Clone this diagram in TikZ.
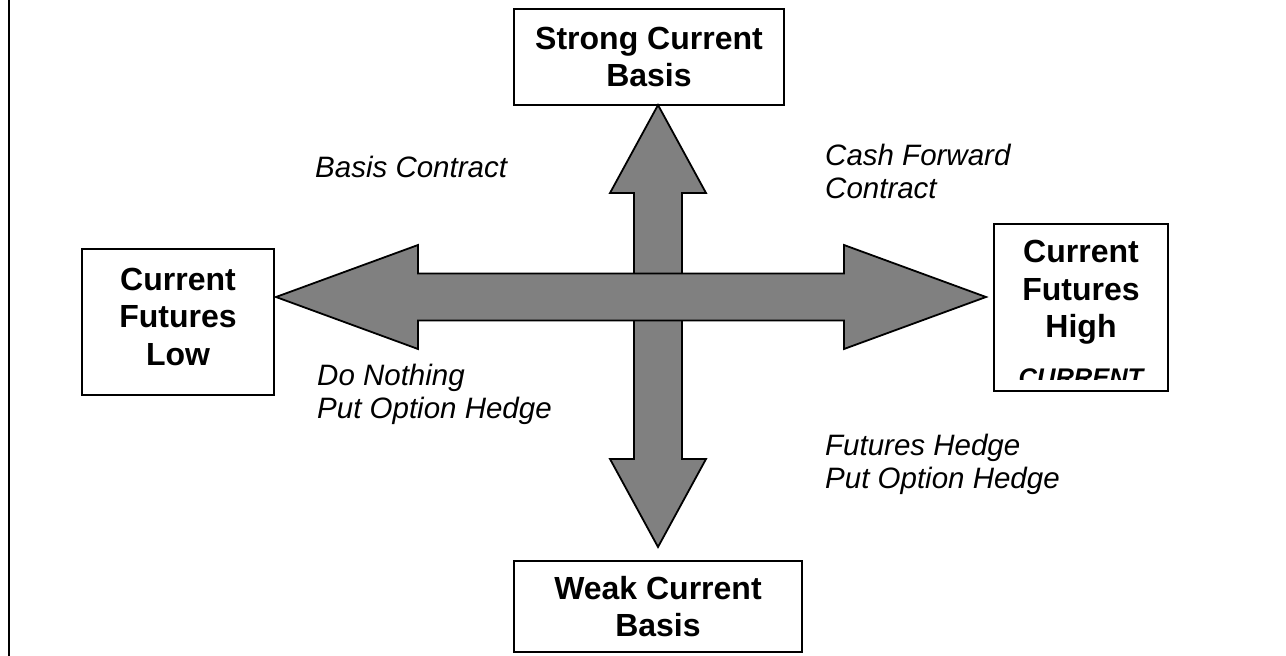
\documentclass[tikz,border=0pt]{standalone}
\usepackage{fontspec}
\setmainfont{Liberation Sans}
\begin{document}
\begin{tikzpicture}[x=1pt, y=-1pt,
    box/.style={draw, line width=1.9pt, inner sep=0pt, align=center,
        font=\fontsize{32}{37.5}\selectfont\bfseries},
    boxtext/.style={inner sep=0pt, align=center, font=\fontsize{32}{37.5}\selectfont\bfseries},
    lbl/.style={anchor=north west, inner sep=0pt, align=left,
        font=\fontsize{29.5}{33.5}\selectfont\itshape},
    blockarrow/.style={draw, line width=1.8pt, fill=black!50, line join=miter}]
    \useasboundingbox (0,0) rectangle (1286,656);
    \draw[line width=1.9pt] (9,0) -- (9,656);

    % the four corner boxes
    \node[box, minimum width=270pt, minimum height=96pt] (strong) at (649,57) {Strong Current\\Basis};
    \node[box, minimum width=192pt, minimum height=146pt] (low) at (178,322) {Current\\Futures\\Low\strut};
    \node[box, minimum width=288pt, minimum height=91pt] (weak) at (658,606.5) {Weak Current\\Basis};
    \node[box, minimum width=174pt, minimum height=167pt] (high) at (1081,307.5) {};
    \begin{scope}
        \clip (high.north west) rectangle ([yshift=12pt]high.south east);
        \node[boxtext, anchor=north] (hightxt) at (1081,240) {Current\\Futures\\High};
        \node[boxtext, anchor=base, font=\fontsize{25.5}{30}\selectfont\bfseries\itshape] (highcut) at (1081,386) {CURRENT};
    \end{scope}

    % arrow tips
    \coordinate (tipU) at (658,105);
    \coordinate (tipD) at (658,547);
    \coordinate (tipL) at (276,297);
    \coordinate (tipR) at (986,297);

    \draw[blockarrow] (tipU) -- ++(48,88) -- ++(-24,0) -- ++(0,266) -- ++(24,0) -- (tipD)
        -- ++(-48,-88) -- ++(24,0) -- ++(0,-266) -- ++(-24,0) -- cycle;
    \draw[blockarrow] (tipL) -- ++(142,-52) -- ++(0,28.5) -- ++(426,0) -- ++(0,-28.5) -- (tipR)
        -- ++(-142,52) -- ++(0,-28.5) -- ++(-426,0) -- ++(0,28.5) -- cycle;

    % strategies in each quarter
    \node[lbl] (basis) at (315,155.5) {Basis Contract};
    \node[lbl] (cash) at (825,143.5) {Cash Forward\\Contract};
    \node[lbl] (nothing) at (317,363.5) {Do Nothing\\Put Option Hedge};
    \node[lbl] (futures) at (825,433.5) {Futures Hedge\\Put Option Hedge};
\end{tikzpicture}
\end{document}
